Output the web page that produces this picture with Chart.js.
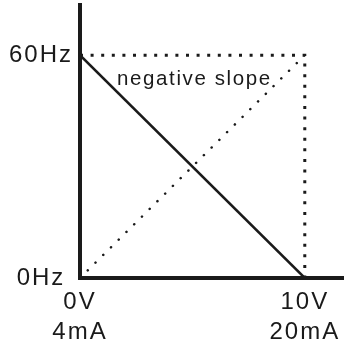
<!DOCTYPE html>
<html>
<head>
<meta charset="utf-8">
<script src="https://cdn.jsdelivr.net/npm/chart.js@4"></script>
<style>
  html, body { margin: 0; padding: 0; background: #fff; }
  #wrap { width: 354px; height: 346px; position: relative; }
</style>
</head>
<body>
<div id="wrap"><canvas id="curve"></canvas></div>
<script>
// axis ranges and tick labels
const X_MAX = 11.7;
const Y_MAX = 73.5;
const xTickValues = [0, 10];
const xTickLabels = [["0V", "4mA"], ["10V", "20mA"]];
const yTickValues = [0, 60];
const yTickLabels = ["0Hz", "60Hz"];

// solid line: frequency falls as the input rises
const negX = [0, 10];
const negY = [60, 0];

// dotted diagonal: the normal (positive) slope
const posX = [0, 10];
const posY = [0, 60];

// dotted guide box at 60Hz / 10V
const boxX = [0, 10, 10];
const boxY = [60, 60, 0];

const slopeText = "negative slope";
const slopeTextAt = [1.65, 52];

const INK = "#1a1a1a";
const FONT = "'Liberation Sans', Arial, sans-serif";

const toPoints = (xs, ys) => xs.map((x, i) => ({ x: x, y: ys[i] }));

Chart.defaults.font.family = FONT;
Chart.defaults.color = INK;

// wider glyph spacing like the printed labels
const spacing = {
    id: "spacing",
    beforeUpdate(chart) { chart.ctx.letterSpacing = "2px"; },
    beforeDraw(chart) { chart.ctx.letterSpacing = "2px"; },
};

// the "negative slope" caption, placed in data units
const caption = {
    id: "caption",
    afterDatasetsDraw(chart) {
        const ctx = chart.ctx;
        const xs = chart.scales.x, ys = chart.scales.y;
        ctx.save();
        ctx.letterSpacing = "1.6px";
        ctx.font = "20.5px " + FONT;
        ctx.fillStyle = INK;
        ctx.textAlign = "left";
        ctx.textBaseline = "alphabetic";
        ctx.fillText(slopeText, xs.getPixelForValue(slopeTextAt[0]), ys.getPixelForValue(slopeTextAt[1]));
        ctx.restore();
    },
};

// keep the plot edges where the layout padding puts them
const noEdgePadding = (s) => {
    s.paddingTop = 0;
    s.paddingBottom = 0;
    s.paddingLeft = 0;
    s.paddingRight = 0;
};

new Chart(document.getElementById("curve"), {
    type: "line",
    data: {
        datasets: [
            {
                data: toPoints(boxX, boxY),
                borderColor: INK,
                borderWidth: 3,
                borderDash: [3, 7.6],
                borderCapStyle: "butt",
                borderJoinStyle: "miter",
                pointRadius: 0,
                fill: false,
            },
            {
                data: toPoints(posX, posY),
                borderColor: INK,
                borderWidth: 2.5,
                borderDash: [0.1, 10.8],
                borderCapStyle: "round",
                pointRadius: 0,
                fill: false,
            },
            {
                data: toPoints(negX, negY),
                borderColor: INK,
                borderWidth: 2.5,
                pointRadius: 0,
                fill: false,
            },
        ],
    },
    options: {
        animation: false,
        responsive: true,
        maintainAspectRatio: false,
        layout: { padding: { top: 5, right: 11, left: 0, bottom: 0 } },
        plugins: {
            legend: { display: false },
            tooltip: { enabled: false },
        },
        scales: {
            x: {
                type: "linear",
                min: 0,
                max: X_MAX,
                grid: { display: false, drawTicks: false },
                border: { display: true, color: INK, width: 4 },
                afterBuildTicks: (s) => { s.ticks = xTickValues.map((v) => ({ value: v })); },
                afterFit: (s) => { s.height = 68; noEdgePadding(s); },
                ticks: {
                    autoSkip: false,
                    maxRotation: 0,
                    padding: 9,
                    font: { size: 24, lineHeight: 1.25 },
                    callback: (v) => xTickLabels[xTickValues.indexOf(v)],
                },
            },
            y: {
                type: "linear",
                min: 0,
                max: Y_MAX,
                grid: { display: false, drawTicks: false },
                border: { display: true, color: INK, width: 4 },
                afterBuildTicks: (s) => { s.ticks = yTickValues.map((v) => ({ value: v })); },
                afterFit: (s) => { s.width = 80; noEdgePadding(s); },
                ticks: {
                    autoSkip: false,
                    crossAlign: "center",
                    padding: 7,
                    font: { size: 24 },
                    callback: (v) => yTickLabels[yTickValues.indexOf(v)],
                },
            },
        },
    },
    plugins: [spacing, caption],
});
</script>
</body>
</html>
